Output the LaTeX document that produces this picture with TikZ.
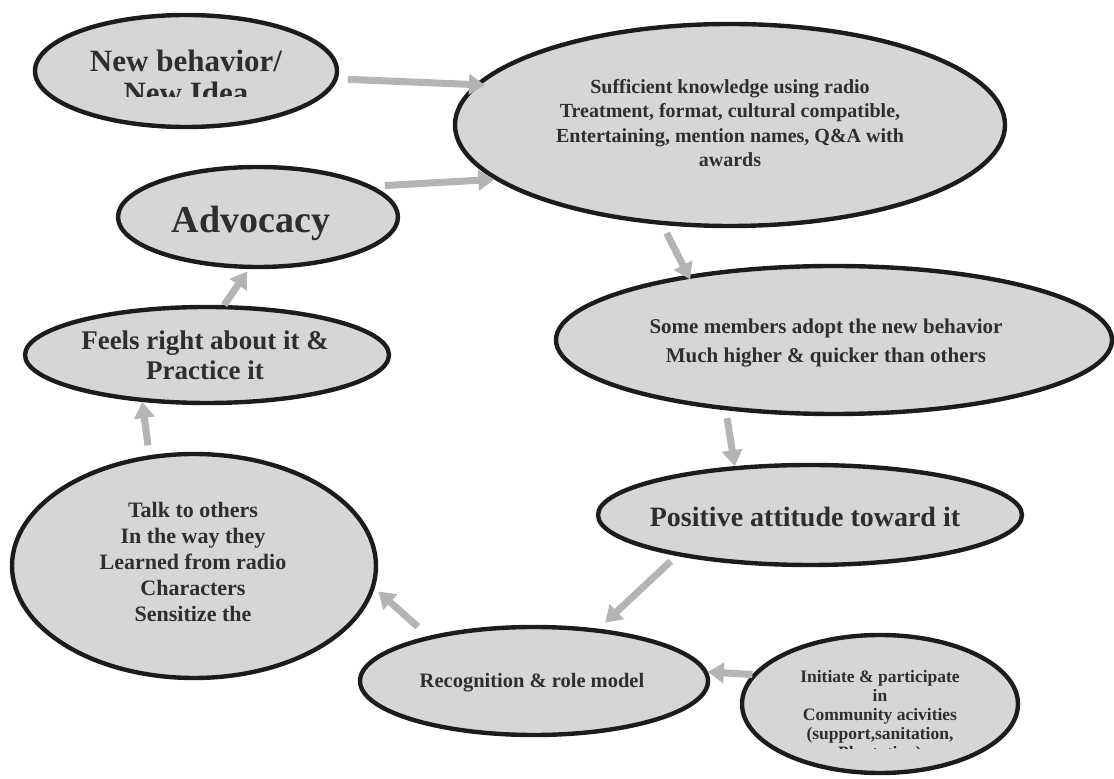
\documentclass[tikz,border=0pt]{standalone}
\usepackage{fontspec}
\setmainfont{Liberation Serif}
\usetikzlibrary{shapes.geometric,arrows.meta}
\definecolor{bubfill}{HTML}{D6D6D6}
\definecolor{bubline}{HTML}{1C1C1C}
\definecolor{arrgray}{HTML}{B4B4B4}
\definecolor{txtgray}{HTML}{2E2E2E}
\begin{document}
\begin{tikzpicture}[x=0.5pt,y=-0.5pt,
  bub/.style={ellipse, draw=bubline, line width=2.2pt, fill=bubfill, inner sep=0pt},
  lbl/.style={text=txtgray, align=center, inner sep=0pt},
  arr/.style={draw=arrgray, line width=3.5pt, -{Triangle[length=8pt,width=10pt]}}]
\useasboundingbox (0,0) rectangle (1114,779);

% ellipses
\node[bub, minimum width=151pt, minimum height=56pt] (nb) at (186,71) {};
\node[bub, minimum width=275pt, minimum height=101pt] (big) at (730,125) {};
\node[bub, minimum width=140pt, minimum height=50pt] (adv) at (258,217) {};
\node[bub, minimum width=278pt, minimum height=74pt] (sm) at (834,340) {};
\node[bub, minimum width=182pt, minimum height=48pt] (fr) at (207,355) {};
\node[bub, minimum width=212pt, minimum height=50pt] (pa) at (810,515) {};
\node[bub, minimum width=182pt, minimum height=112pt] (talk) at (194,566) {};
\node[bub, minimum width=174pt, minimum height=54pt] (rec) at (534,681) {};
\node[bub, minimum width=138pt, minimum height=69pt] (init) at (880,704) {};

% texts
\begin{scope}
  \clip (36,20) rectangle (336,97);
  \node[lbl, font=\bfseries\fontsize{15.5}{16}\selectfont] (nbt) at (186,77) {New behavior/\\New Idea};
\end{scope}
\node[lbl, font=\bfseries\fontsize{10}{12.25}\selectfont] (bigt) at (730,123)
  {Sufficient knowledge using radio\\Treatment, format, cultural compatible,\\Entertaining, mention names, Q\&A with\\awards};
\node[lbl, font=\bfseries\fontsize{19}{22}\selectfont] (advt) at (251,223) {Advocacy};
\node[lbl, font=\bfseries\fontsize{10.5}{14.5}\selectfont] (smt) at (826,343)
  {Some members adopt the new behavior\\Much higher \& quicker than others};
\node[lbl, font=\bfseries\fontsize{13.5}{15}\selectfont] (frt) at (205,355) {Feels right about it \&\\Practice it};
\node[lbl, font=\bfseries\fontsize{14}{16}\selectfont] (pat) at (805,517) {Positive attitude toward it};
\node[lbl, font=\bfseries\fontsize{11}{13}\selectfont] (talkt) at (193,562)
  {Talk to others\\In the way they\\Learned from radio\\Characters\\Sensitize the};
\node[lbl, font=\bfseries\fontsize{10.25}{12}\selectfont] (rect) at (532,683) {Recognition \& role model};
\begin{scope}
  \clip (742,640) rectangle (1018,749);
  \node[lbl, font=\bfseries\fontsize{8.75}{9.5}\selectfont] (initt) at (880,716)
    {Initiate \& participate\\in\\Community acivities\\(support,sanitation,\\Plantation)};
\end{scope}

% arrows
\draw[arr, shorten <=5pt, shorten >=-5pt] (nb.-3.6) -- (big.171.9);
\draw[arr, shorten <=6pt] (adv.15.6) -- (big.-167.6);
\draw[arr, shorten <=4.5pt, shorten >=-2.5pt] (big.-124) -- (sm.156.9);
\draw[arr, shorten <=4pt] (sm.-147.8) -- (pa.147.2);
\draw[arr, shorten <=4pt, shorten >=4.5pt] (pa.-163) -- (rec.39);
\draw[arr, shorten <=7pt, shorten >=2.5pt] (rec.157) -- (talk.-7.5);
\draw[arr, shorten <=5pt] (talk.112.5) -- (fr.-144.9);
\draw[arr, shorten >=1.5pt] (fr.71.6) -- (adv.-100.7);
\draw[arr] (init.167.7) -- (rec.3.7);
\end{tikzpicture}
\end{document}
